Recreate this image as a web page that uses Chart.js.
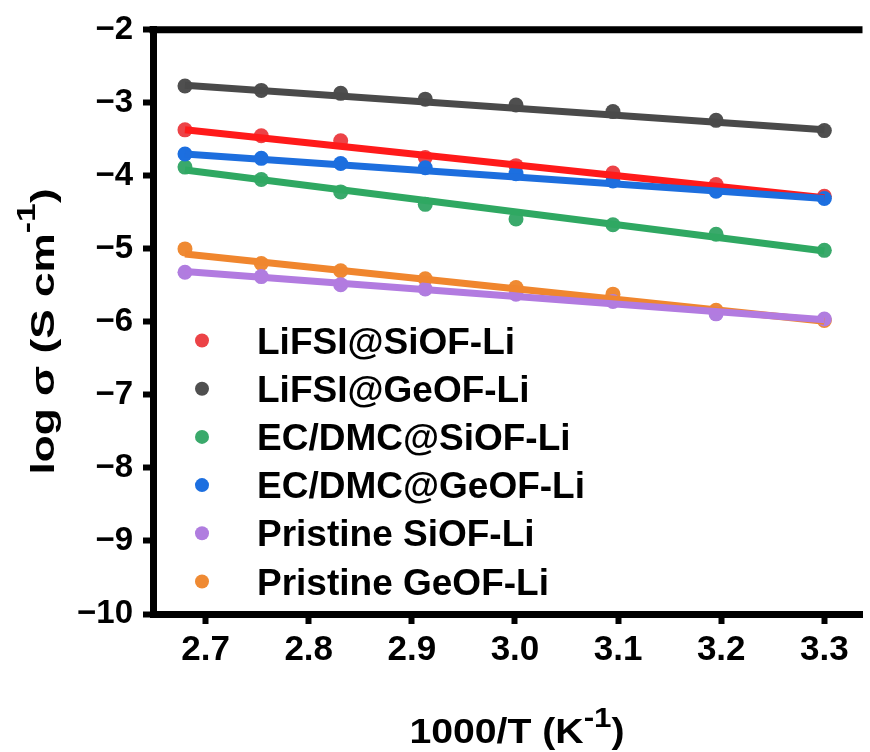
<!DOCTYPE html>
<html>
<head>
<meta charset="utf-8">
<script src="https://cdn.jsdelivr.net/npm/chart.js@4.4.1/dist/chart.umd.min.js"></script>
<style>
  html, body { margin: 0; padding: 0; background: #fff; }
  #chart { display: block; }
</style>
</head>
<body>
<canvas id="chart" width="870" height="752"></canvas>
<script>
// 1000/T (K^-1) of each measuring temperature
const invTemp = [2.680, 2.754, 2.831, 2.913, 3.001, 3.095, 3.195, 3.300];

const seriesNames = [
    'LiFSI@SiOF-Li',
    'LiFSI@GeOF-Li',
    'EC/DMC@SiOF-Li',
    'EC/DMC@GeOF-Li',
    'Pristine SiOF-Li',
    'Pristine GeOF-Li'
];

// log σ (S cm^-1)
const lifsiSiOF    = [-3.37, -3.45, -3.52, -3.75, -3.86, -3.96, -4.12, -4.28];
const lifsiGeOF    = [-2.77, -2.83, -2.87, -2.95, -3.03, -3.12, -3.24, -3.38];
const ecdmcSiOF    = [-3.88, -4.05, -4.22, -4.39, -4.59, -4.67, -4.80, -5.02];
const ecdmcGeOF    = [-3.70, -3.76, -3.83, -3.89, -3.97, -4.07, -4.21, -4.31];
const pristineSiOF = [-5.32, -5.38, -5.49, -5.55, -5.62, -5.72, -5.89, -5.96];
const pristineGeOF = [-5.00, -5.20, -5.30, -5.41, -5.53, -5.62, -5.84, -5.98];

// Arrhenius fit lines, value at the first and last temperature
const fitX     = [2.680, 3.300];
const fitStart = [-3.37, -2.76, -3.92, -3.70, -5.31, -5.07];
const fitEnd   = [-4.30, -3.37, -5.03, -4.31, -5.97, -5.99];

const xTicks = [2.7, 2.8, 2.9, 3.0, 3.1, 3.2, 3.3];
const yTicks = [-10, -9, -8, -7, -6, -5, -4, -3, -2];

const pointColors = ['#ec4347', '#4f4f4f', '#3aa96b', '#1c6fe0', '#b07ddf', '#ef8a33'];
const lineColors  = ['#ff1a1a', '#4a4a4a', '#2fa862', '#1d6ede', '#b27be0', '#f0862e'];
// stacking of each series (lower = drawn on top)
const layer       = [10, 9, 8, 7, 5, 6];

const allSeries = [lifsiSiOF, lifsiGeOF, ecdmcSiOF, ecdmcGeOF, pristineSiOF, pristineGeOF];

const FONT = '"Liberation Sans", Arial, Helvetica, sans-serif';

const datasets = [];
allSeries.forEach((values, i) => {
    // measured points, kept underneath the fit lines
    datasets.push({
        label: seriesNames[i],
        data: values.map((v, j) => ({ x: invTemp[j], y: v })),
        pointRadius: 7.5,
        pointHoverRadius: 7.5,
        pointBackgroundColor: pointColors[i],
        pointBorderWidth: 0,
        showLine: false,
        order: layer[i] + 10
    });
    datasets.push({
        label: seriesNames[i] + ' fit',
        data: [{ x: fitX[0], y: fitStart[i] }, { x: fitX[1], y: fitEnd[i] }],
        showLine: true,
        borderColor: lineColors[i],
        borderWidth: 7,
        pointRadius: 0,
        order: layer[i]
    });
});

// top frame line, legend and axis titles with superscripts
const decorations = {
    id: 'decorations',
    afterDraw(chart) {
        const { ctx, chartArea } = chart;
        ctx.save();

        ctx.strokeStyle = '#000';
        ctx.lineWidth = 7;
        ctx.beginPath();
        ctx.moveTo(chartArea.left - 3.5, chartArea.top);
        ctx.lineTo(chartArea.right, chartArea.top);
        ctx.stroke();

        // legend
        ctx.textBaseline = 'alphabetic';
        ctx.textAlign = 'left';
        ctx.font = 'bold 37px ' + FONT;
        seriesNames.forEach((name, i) => {
            const cy = 340.5 + i * 48.2;
            ctx.fillStyle = pointColors[i];
            ctx.beginPath();
            ctx.arc(202, cy, 7, 0, Math.PI * 2);
            ctx.fill();
            ctx.fillStyle = '#000';
            ctx.fillText(name, 257, cy + 13);
        });

        // y title: log σ (S cm^-1)
        ctx.save();
        ctx.translate(41.5, 331.5);
        ctx.rotate(-Math.PI / 2);
        ctx.scale(1.3, 1);
        const mainFont = 'bold 34px ' + FONT;
        const supFont = 'bold 26px ' + FONT;
        ctx.font = mainFont;
        const a = ctx.measureText('log σ (S cm').width;
        const c = ctx.measureText(')').width;
        ctx.font = supFont;
        const b = ctx.measureText('-1').width;
        let x = -(a + b + c) / 2;
        ctx.fillStyle = '#000';
        ctx.font = mainFont;
        ctx.fillText('log σ (S cm', x, 12);
        x += a;
        ctx.font = supFont;
        ctx.fillText('-1', x, -7);
        x += b;
        ctx.font = mainFont;
        ctx.fillText(')', x, 12);
        ctx.restore();

        // x title: 1000/T (K^-1)
        ctx.save();
        ctx.translate(517, 743);
        ctx.scale(1.12, 1);
        const xMain = 'bold 35px ' + FONT;
        const xSup = 'bold 28px ' + FONT;
        ctx.font = xMain;
        const p = ctx.measureText('1000/T (K').width;
        const r = ctx.measureText(')').width;
        ctx.font = xSup;
        const q = ctx.measureText('-1').width;
        let tx = -(p + q + r) / 2;
        ctx.fillStyle = '#000';
        ctx.font = xMain;
        ctx.fillText('1000/T (K', tx, 0);
        tx += p;
        ctx.font = xSup;
        ctx.fillText('-1', tx, -16);
        tx += q;
        ctx.font = xMain;
        ctx.fillText(')', tx, 0);
        ctx.restore();

        ctx.restore();
    }
};

new Chart(document.getElementById('chart'), {
    type: 'scatter',
    data: { datasets },
    options: {
        responsive: false,
        animation: false,
        devicePixelRatio: 1,
        layout: { padding: { top: 29, right: 4, left: 0, bottom: 0 } },
        plugins: {
            legend: { display: false },
            tooltip: { enabled: false }
        },
        scales: {
            x: {
                type: 'linear',
                min: 2.649,
                max: 3.337,
                afterBuildTicks: scale => { scale.ticks = xTicks.map(v => ({ value: v })); },
                afterFit: scale => { scale.height = 138; },
                border: { display: true, color: '#000', width: 7 },
                grid: { drawOnChartArea: false, drawTicks: true, tickLength: 10, tickWidth: 6, tickColor: '#000' },
                ticks: {
                    color: '#000',
                    padding: 5,
                    maxRotation: 0,
                    font: { family: FONT, size: 35, weight: 'bold' },
                    callback: v => v.toFixed(1)
                }
            },
            y: {
                type: 'linear',
                min: -10,
                max: -2,
                afterBuildTicks: scale => { scale.ticks = yTicks.map(v => ({ value: v })); },
                afterFit: scale => { scale.width = 153; },
                border: { display: true, color: '#000', width: 7 },
                grid: { drawOnChartArea: false, drawTicks: true, tickLength: 10, tickWidth: 6, tickColor: '#000' },
                ticks: {
                    color: '#000',
                    padding: 10,
                    font: { family: FONT, size: 33, weight: 'bold' },
                    callback: v => '\u2212' + Math.abs(v)
                }
            }
        }
    },
    plugins: [decorations]
});
</script>
</body>
</html>
